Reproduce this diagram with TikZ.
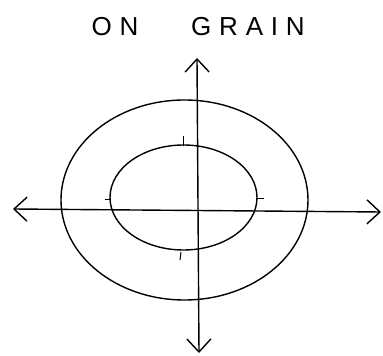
\documentclass[tikz,border=0pt]{standalone}
\usepackage{fontspec}
\usetikzlibrary{arrows.meta}
\newfontfamily\handfont[LetterSpace=30]{Liberation Sans}
\begin{document}
\begin{tikzpicture}[x=1pt,y=1pt,
  ink/.style={line width=1.4pt, line cap=round, line join=round},
  axis/.style={ink, {Straight Barb[length=13pt,width=24pt,line width=1.4pt]}-{Straight Barb[length=13pt,width=24pt,line width=1.4pt]}},
  tick/.style={line width=1pt},
  title/.style={font=\handfont\fontsize{26}{28}\selectfont, inner sep=0pt}]
\useasboundingbox (0,0) rectangle (383,356);
\node[title] (on) at (115,329) {ON};
\node[title] (grain) at (248,329) {GRAIN};
\coordinate (top) at (197,298);
\coordinate (bottom) at (199,3);
\coordinate (left) at (13,147);
\coordinate (right) at (381,144);
\draw[axis] (bottom) -- (top);
\draw[axis] (left) -- (right);
\draw[ink] (184.5,156) ellipse [x radius=123.5, y radius=100];
\draw[ink] (183.5,158.5) ellipse [x radius=73.5, y radius=52.5];
\draw[tick] (183,220) -- (183,210);
\draw[tick] (105,156) -- (111,156);
\draw[tick] (257,157) -- (264,157);
\draw[tick] (181,104) -- (180,96);
\end{tikzpicture}
\end{document}
